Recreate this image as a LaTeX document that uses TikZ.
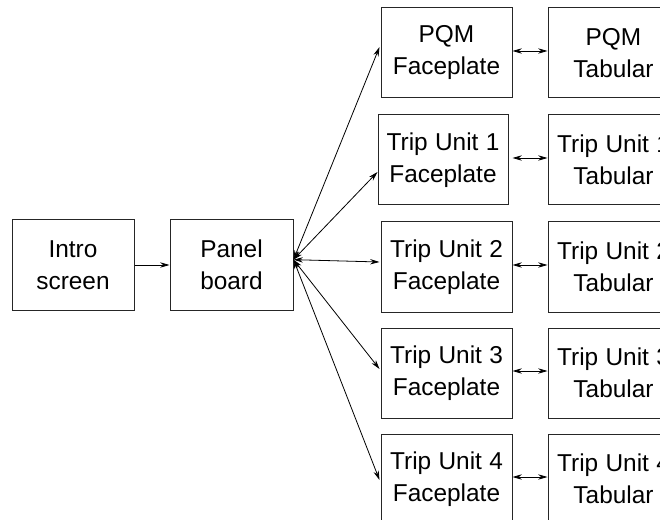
\documentclass[tikz,border=0pt]{standalone}
\usepackage{fontspec}
\setmainfont{Liberation Sans}
\usetikzlibrary{arrows.meta,calc}
\newcommand{\wsp}{\hspace{5.5pt}}
\begin{document}
\begin{tikzpicture}[x=0.75pt,y=-0.75pt,
  box/.style={draw=black!85,line width=0.75pt,inner sep=0pt,minimum width=98.25pt,minimum height=67.5pt,
    align=center,font=\fontsize{18.3pt}{24pt}\selectfont},
  link/.style={line width=0.6pt,{Stealth[length=7pt,width=4pt]}-{Stealth[length=7pt,width=4pt]}},
  one/.style={line width=0.6pt,-{Stealth[length=7pt,width=4pt]}}]
\clip (0,0) rectangle (660,520);
\fill[white] (0,0) rectangle (660,520);
\node[box,minimum width=91.5pt] (intro) at (73,265) {Intro\\screen};
\node[box,minimum width=92.25pt] (panel) at (231.5,265) {Panel\\board};
\node[box] (pqmF) at (446.5,53) {PQM\\Faceplate};
\node[box,minimum width=97.5pt] (tu1F) at (443,160) {Trip\wsp Unit\wsp 1\\Faceplate};
\node[box] (tu2F) at (446.5,267) {Trip\wsp Unit\wsp 2\\Faceplate};
\node[box] (tu3F) at (446.5,373) {Trip\wsp Unit\wsp 3\\Faceplate};
\node[box] (tu4F) at (446.5,479) {Trip\wsp Unit\wsp 4\\Faceplate};
\node[box] (pqmT) at (613.5,53) {PQM\\Tabular};
\node[box] (tu1T) at (613.5,160) {Trip\wsp Unit\wsp 1\\Tabular};
\node[box] (tu2T) at (613.5,267) {Trip\wsp Unit\wsp 2\\Tabular};
\node[box] (tu3T) at (613.5,373) {Trip\wsp Unit\wsp 3\\Tabular};
\node[box] (tu4T) at (613.5,479) {Trip\wsp Unit\wsp 4\\Tabular};
\coordinate (hub) at ([yshift=4pt]panel.east);
\draw[one] (intro.east) -- (panel.west);
\draw[link] (hub) -- ([xshift=-0.75pt,yshift=4.5pt]pqmF.west);
\draw[link] (hub) -- ([yshift=-9pt]tu1F.west);
\draw[link] (hub) -- ([xshift=-0.75pt,yshift=3.75pt]tu2F.west);
\draw[link] (hub) -- ([xshift=-0.75pt,yshift=3pt]tu3F.west);
\draw[link] (hub) -- ([xshift=-0.75pt,yshift=-0.75pt]tu4F.west);
\foreach \a in {pqm,tu1,tu2,tu3,tu4}{
  \draw[link] ([yshift=1.5pt]\a F.east -| pqmF.east) -- ([yshift=1.5pt]\a F.east -| \a T.west);
}
\end{tikzpicture}
\end{document}
